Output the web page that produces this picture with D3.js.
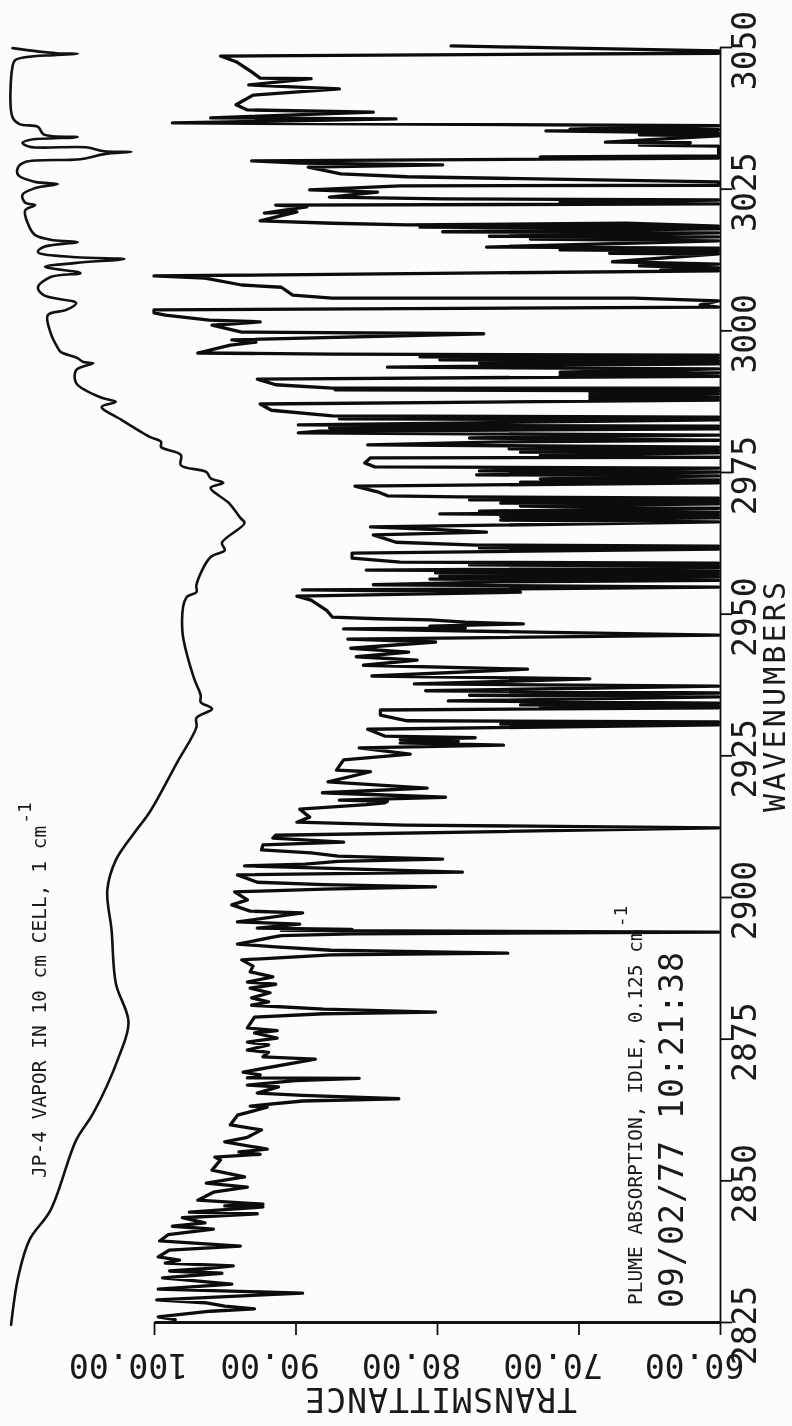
<!DOCTYPE html>
<html>
<head>
  <meta charset="utf-8">
  <title>JP-4 plume absorption</title>
  <script src="https://d3js.org/d3.v7.min.js"></script>
  <style>
    html, body { margin: 0; padding: 0; background: #fcfcfc; }
    svg { display: block; filter: blur(0.45px); }
    text { fill: #1a1a1a; }
    .plot { font-family: "DejaVu Sans Mono", monospace; font-size: 33px; }
    .note { font-family: "DejaVu Sans Mono", monospace; font-size: 19.5px; }
  </style>
</head>
<body>
<script>
// tick labels
var wnTicks = [2825, 2850, 2875, 2900, 2925, 2950, 2975, 3000, 3025, 3050];
var transTicks = [100, 90, 80, 70, 60];

// upper trace, [wavenumber, transmittance]
var vapor = [
  [3049.8,110.0],[3048.9,106.9],[3048.8,105.4],[3048.6,106.9],[3047.7,109.8],[3046.5,110.0],[3037.6,110.0],
  [3036.4,109.5],[3035.9,108.2],[3034.6,107.8],[3034.1,105.4],[3033.6,108.8],[3033.1,109.3],[3032.4,108.8],
  [3032.3,104.8],[3031.6,103.5],[3031.5,101.6],[3031.1,103.5],[3030.2,105.2],[3029.7,109.1],[3028.8,109.6],
  [3027.4,109.6],[3026.2,108.4],[3025.8,106.8],[3025.1,108.4],[3023.9,109.3],[3022.5,109.1],[3022.1,108.4],
  [3021.2,109.1],[3018.2,108.8],[3016.8,108.4],[3015.9,107.1],[3015.6,105.4],[3014.7,107.8],[3013.8,108.2],
  [3012.9,105.5],[3012.6,102.1],[3011.9,105.5],[3011.2,107.7],[3010.1,105.2],[3009.4,107.3],[3007.6,108.2],
  [3006.2,107.8],[3004.8,105.5],[3003.6,106.2],[3002.7,107.5],[2999.5,107.3],[2996.9,106.8],[2996.2,106.6],
  [2995.1,105.4],[2994.4,105.0],[2994.2,104.3],[2993.0,105.5],[2990.7,105.5],[2988.1,103.7],[2987.4,102.7],
  [2986.5,103.7],[2984.2,102.3],[2981.2,100.3],[2980.3,99.5],[2979.4,99.5],[2978.0,98.1],[2976.2,98.1],
  [2975.0,96.3],[2973.9,96.0],[2973.1,95.1],[2972.2,96.0],[2969.5,94.7],[2966.9,93.9],[2966.0,93.6],
  [2962.5,95.2],[2961.2,95.0],[2960.0,96.0],[2955.1,97.0],[2953.8,97.0],[2952.9,97.7],[2947.1,98.0],
  [2938.8,97.2],[2935.6,96.7],[2934.4,96.7],[2933.2,95.9],[2931.6,97.0],[2930.0,97.0],[2923.6,98.4],
  [2915.0,100.3],[2911.3,101.4],[2906.5,102.7],[2901.2,103.3],[2894.2,103.0],[2884.8,102.7],[2877.9,101.8],
  [2871.7,102.5],[2861.8,104.3],[2857.1,105.5],[2844.8,107.3],[2839.5,108.8],[2832.9,109.6],[2824.5,110.1]
];

// lower trace, split in ranges, [wavenumber, transmittance]
var plume3050 = [
  [3050.2,79.0],[3049.3,60.1],[3048.9,60.1],[3048.4,95.3],[3047.4,94.2],[3045.6,93.1],[3044.5,92.5],[3044.4,88.9],
  [3043.3,93.3],[3042.6,86.9],[3041.5,93.0],[3039.8,94.2],[3038.9,93.4],[3038.5,84.5],[3037.5,96.0],[3037.3,82.9],
  [3036.6,98.7],[3036.1,60.1],[3035.5,70.6],[3035.4,60.1],[3035.2,72.3],[3034.8,60.1],[3034.5,65.7],[3034.3,60.1],
  [3033.2,68.1],[3033.1,62.1],[3032.7,65.7],[3032.5,60.1],[3030.8,60.1],[3030.6,72.7],[3030.4,60.1],[3029.9,93.1],
  [3029.5,89.7],[3029.2,79.6],[3028.8,89.1],[3027.6,86.8],[3027.1,82.1],[3026.2,60.1],[3025.6,60.1],[3025.5,82.6],
  [3024.8,89.0],[3024.4,84.2],[3023.5,87.6],[3023.2,79.6],[3023.0,60.1],[3022.6,71.3],[3022.3,60.1],[3022.1,91.4],
  [3021.8,89.2],[3020.7,92.2],[3020.9,89.9],[3019.3,92.5],[3018.9,87.4],[3018.6,82.1],[3018.9,66.6],[3018.4,60.1],
  [3018.2,81.2],[3017.9,60.1],[3017.4,79.6],[3017.2,60.1],[3016.6,76.3],[3016.5,60.1],[3016.1,73.4],[3015.8,60.1],
  [3014.7,76.5],[3014.5,60.1],[3014.2,71.3],[3014.0,60.1],[3013.6,67.8],[3013.5,60.1],[3012.1,67.6],[3011.7,60.1],
  [3011.4,65.7],[3011.0,60.1],[3010.6,64.2],[3010.5,60.1],[3009.6,100.0],[3009.2,96.4],[3008.0,93.8],[3007.6,91.0],
  [3006.2,90.2],[3005.7,87.4],[3005.7,66.1],[3005.2,60.1],[3004.5,61.4],[3004.1,60.1],[3003.6,100.0],[3003.1,100.0],
  [3002.7,99.2],[3001.8,96.1],[3001.5,92.5],[3000.9,95.9]
];
var plume3000 = [
  [2999.7,93.8],[2999.4,76.7],[2998.3,94.5],[2997.9,92.8],[2997.4,94.6],[2996.0,96.9],[2995.8,87.4],[2995.6,60.1],
  [2995.3,81.2],[2995.1,60.1],[2994.8,79.8],[2994.6,60.1],[2994.2,77.0],[2994.1,60.1],[2993.5,83.5],[2993.2,60.1],
  [2992.6,71.3],[2992.5,60.1],[2992.1,71.3],[2991.9,60.1],[2991.4,92.7],[2990.4,91.4],[2989.8,87.4],[2989.8,60.1],
  [2989.5,87.2],[2989.3,60.1],[2988.9,69.2],[2988.8,60.1],[2988.4,69.2],[2988.2,60.1],[2987.9,69.2],[2987.7,60.1],
  [2987.0,92.5],[2985.9,91.7],[2984.9,87.4],[2984.7,60.1],[2984.4,86.9],[2984.2,60.1],[2983.3,89.8],[2983.1,60.1],
  [2982.8,87.6],[2982.6,60.1],[2982.2,88.3],[2981.9,89.8],[2981.5,60.1],[2981.0,77.7],[2980.6,60.1],[2980.3,75.5],
  [2979.8,84.9],[2979.4,60.1],[2979.1,74.9],[2978.9,60.1],[2978.5,74.1],[2978.4,60.1],[2978.0,72.7],[2977.6,60.1],
  [2977.5,84.7],[2976.6,85.1],[2975.9,84.4],[2975.7,60.1],[2975.2,77.0],[2975.0,60.1],[2974.5,77.2],[2974.3,60.1],
  [2973.8,72.7],[2973.6,60.1],[2973.2,74.1],[2973.1,60.1],[2972.5,85.8],[2971.5,84.2],[2970.8,83.5],[2970.6,78.4],
  [2970.4,60.1],[2970.1,77.7],[2969.9,60.1],[2969.5,75.5],[2969.4,60.1],[2969.0,74.1],[2968.6,60.1],[2968.1,77.0],
  [2967.9,60.1],[2967.6,79.8],[2967.4,60.1],[2967.1,75.5],[2966.9,60.1],[2966.5,75.5],[2966.2,60.1],[2965.3,84.7],
  [2964.9,80.5],[2964.4,76.5],[2963.9,84.5],[2962.6,82.9],[2962.1,77.2],[2961.9,60.1],[2961.6,77.0],[2961.4,60.1],
  [2960.7,86.0],[2959.8,86.0],[2959.1,82.6],[2958.9,60.1],[2958.6,77.7],[2958.4,60.1],[2958.1,60.1],[2957.7,85.0],
  [2957.5,60.1],[2957.2,80.1],[2957.0,60.1],[2956.6,79.8],[2956.5,60.1],[2956.1,80.5],[2955.9,60.1],[2955.6,75.5],
  [2955.1,84.5],[2954.7,60.1],[2954.4,74.1],[2954.2,89.5],[2953.8,74.1],[2953.1,89.9],[2952.4,88.9],[2950.6,87.8]
];
var plume2950 = [
  [2949.4,87.4],[2949.1,84.2],[2948.9,80.5],[2948.5,78.0],[2948.2,73.9],[2947.8,80.5],[2947.5,78.0],[2947.3,86.6],[2946.2,60.1],[2945.5,86.3],
  [2945.0,80.1],[2943.9,86.1],[2943.2,82.0],[2942.4,85.7],[2941.8,81.4],[2940.9,85.2],[2940.2,73.6],[2939.0,84.6],
  [2938.5,69.2],[2937.6,81.6],[2937.2,60.1],[2936.4,80.8],[2936.0,60.1],[2935.6,77.7],[2935.3,60.1],[2934.6,79.2],
  [2934.2,60.1],[2933.9,74.1],[2933.7,60.1],[2933.6,72.7],[2933.4,60.1],[2933.0,84.0],[2932.1,84.0],[2931.1,82.1],
  [2930.9,60.1],[2930.5,75.5],[2930.4,60.1],[2929.6,84.9],[2928.4,83.7],[2928.1,77.3],[2927.8,82.6],[2927.5,78.5],[2927.2,82.6],[2926.8,75.3],
  [2926.3,85.5],[2925.2,81.9],[2924.2,86.6],[2922.4,87.1],[2922.1,84.7],[2920.3,87.7],[2919.2,80.7],[2918.4,88.1],
  [2917.6,79.4],[2917.1,86.9],[2916.9,83.5],[2916.6,83.7],[2916.3,85.0],[2915.5,89.7],[2914.1,89.0],[2913.2,89.9],[2912.7,82.3],[2912.2,60.1],
  [2910.9,91.4],[2910.4,91.6],[2909.7,86.6],[2909.2,92.3],[2908.3,92.4],[2907.8,88.9],[2907.2,87.0],[2906.7,79.6],[2906.3,87.0],[2905.8,89.3],
  [2905.5,93.6],[2904.4,78.2],[2903.9,94.1],[2902.6,92.7],[2902.2,88.0],[2901.8,80.1],[2901.4,88.0],[2900.9,94.3]
];
var plume2900 = [
  [2899.5,93.4],[2898.6,94.5],[2897.5,93.2],[2897.2,89.5],[2895.6,94.1],[2895.2,89.7],[2894.5,92.7],[2894.3,86.0],[2894.1,91.0],[2893.8,60.1],[2893.5,86.0],[2893.2,91.0],
  [2892.9,91.6],[2891.7,94.1],[2891.2,91.4],[2890.6,87.5],[2890.1,75.0],[2889.8,87.5],[2888.9,93.8],[2887.8,93.0],[2886.8,93.2],[2885.9,91.6],[2885.0,93.4],
  [2884.6,91.4],[2883.9,93.2],[2883.1,91.8],[2882.2,93.1],[2881.5,91.9],[2880.9,93.1],[2880.2,88.0],[2879.7,80.1],[2879.4,88.0],[2878.8,92.9],
  [2876.9,93.4],[2876.4,91.3],[2876.0,92.9],[2875.1,91.3],[2874.4,93.4],[2873.9,91.9],[2873.0,93.4],[2872.6,91.9],
  [2871.8,92.3],[2871.4,88.6],[2869.1,93.7],[2868.6,92.5],[2868.1,93.4],[2868.0,85.5],[2867.6,90.0],[2866.8,93.4],[2866.5,91.2],[2865.4,92.7],[2865.0,89.5],
  [2864.4,82.7],[2864.0,89.5],[2863.1,93.2],[2862.9,92.0],[2861.5,94.1],[2859.8,94.6],[2858.9,92.4],[2857.6,93.4],[2856.8,95.0],
  [2855.5,92.0],[2855.0,94.0],[2854.6,92.5],[2854.1,95.7],[2853.6,95.3],[2851.8,95.9],[2850.6,93.6],[2849.5,96.3],[2848.8,93.4],[2847.9,95.8],
  [2846.5,96.9],[2845.8,92.3],[2845.5,95.0],[2845.3,92.3],[2844.4,97.5],[2844.1,92.7],[2843.4,98.0],[2842.5,96.4],[2841.9,98.7],
  [2841.4,95.8],[2840.4,99.0],[2839.3,99.6],[2838.4,93.9],[2837.7,98.9],[2836.5,99.7],[2835.9,98.2],[2835.4,99.2],
  [2834.9,94.4],[2834.4,96.5],[2834.0,98.9],[2833.6,95.2],[2832.8,99.4],[2831.7,94.5],[2830.8,99.7],[2830.1,89.5],[2828.9,99.8],
  [2828.4,96.4],[2827.8,95.0],[2827.3,92.9],[2826.9,96.0],[2825.9,99.7],[2825.4,98.5]
];
var plume = plume3050.concat(plume3000, plume2950, plume2900);

var width = 792;
var height = 1426;

// 1. svg
var svg = d3.select("body").append("svg").attr("width", width).attr("height", height);

// 2. scales, the page is turned so wavenumber runs upward
var xT = d3.scaleLinear().domain([100, 60]).range([154, 720]);
var yWn = d3.scaleLinear().domain([2825, 3050]).range([1322, 47]);

// 3. axes
var gx = svg.append("g")
  .attr("transform", "translate(0," + yWn(2825) + ")")
  .call(d3.axisBottom(xT).tickValues(transTicks).tickSize(13).tickSizeOuter(0).tickFormat(d3.format(".2f")));
gx.selectAll("text")
  .attr("class", "plot")
  .attr("text-anchor", "middle")
  .attr("y", 0).attr("dy", 0)
  .attr("transform", "translate(-26,32) rotate(180)");

var gy = svg.append("g")
  .attr("transform", "translate(" + xT(60) + ",0)")
  .call(d3.axisRight(yWn).tickValues(wnTicks).tickSize(12).tickSizeOuter(0).tickFormat(d3.format("d")));
gy.selectAll("text")
  .attr("class", "plot")
  .attr("text-anchor", "middle")
  .attr("x", 0).attr("dy", 0)
  .attr("transform", "translate(36,3) rotate(-90)");

svg.selectAll(".domain, .tick line").attr("stroke", "#111").attr("stroke-width", 1.8);
svg.select("g").select(".domain").attr("stroke-width", 3);
svg.selectAll(".tick text").attr("fill", "#1a1a1a").style("font-family", '"DejaVu Sans Mono", monospace').style("font-size", "33px");

// 4. traces
var line = d3.line()
  .x(function(d) { return xT(d[1]); })
  .y(function(d) { return yWn(d[0]); });

svg.append("path").datum(vapor)
  .attr("d", line.curve(d3.curveCatmullRom.alpha(0.5))).attr("fill", "none").attr("stroke", "#111")
  .attr("stroke-width", 2.6).attr("stroke-linejoin", "round").attr("stroke-linecap", "round");

svg.append("path").datum(plume)
  .attr("d", line.curve(d3.curveLinear)).attr("fill", "none").attr("stroke", "#0c0c0c")
  .attr("stroke-width", 3.3).attr("stroke-linejoin", "round").attr("stroke-linecap", "round");

// 5. titles and notes
svg.append("text").attr("class", "plot")
  .attr("transform", "translate(441,1388) rotate(180)")
  .attr("text-anchor", "middle").attr("textLength", 272)
  .text("TRANSMITTANCE");

svg.append("text").attr("class", "plot")
  .attr("transform", "translate(785,812) rotate(-90)")
  .attr("textLength", 230)
  .style("font-size", "30px")
  .text("WAVENUMBERS");

svg.append("text").attr("class", "plot")
  .attr("transform", "translate(683,1308) rotate(-90)")
  .attr("textLength", 356)
  .text("09/02/77 10:21:38");

function note(x, y, label) {
  var t = svg.append("text").attr("class", "note").attr("transform", "translate(" + x + "," + y + ") rotate(-90)");
  t.append("tspan").text(label);
  t.append("tspan").attr("dy", -15).attr("dx", 2).style("font-size", "18px").text("-1");
}
note(642, 1305, "PLUME ABSORPTION, IDLE, 0.125 cm");
note(46, 1178, "JP-4 VAPOR IN 10 cm CELL, 1 cm");
</script>
</body>
</html>
